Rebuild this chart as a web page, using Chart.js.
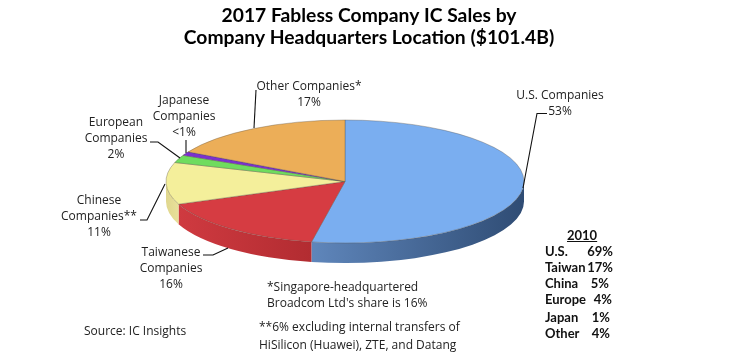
<!DOCTYPE html>
<html>
<head>
<meta charset="utf-8">
<style>
  html, body { margin: 0; padding: 0; background: #fff; }
  #wrap { position: relative; width: 738px; height: 354px; overflow: hidden; }
  #wrap canvas { position: absolute; left: 0; top: 0; }
  .lbl { position: absolute; font-family: "Open Sans", sans-serif; font-size: 12px; line-height: 16px; color: #222; white-space: pre; }
  .lbl.c { text-align: center; transform: translateX(-50%); }
  .t { position: absolute; font-family: Lato, sans-serif; font-weight: bold; font-size: 13px; line-height: 16px; color: #111; white-space: pre; }
</style>
</head>
<body>
<div id="wrap"><canvas id="pie" width="738" height="354"></canvas></div>
<script src="https://cdn.jsdelivr.net/npm/chart.js@4/dist/chart.umd.min.js"></script>
<script>
// Valeurs
const categories = ['U.S. Companies', 'Taiwanese Companies', 'Chinese Companies**', 'European Companies', 'Japanese Companies', 'Other Companies*'];
const shares = [53, 16, 11, 2, 1, 17];
const topColors = ['#7aaef0', '#d63c42', '#f4ef9b', '#6fdc5e', '#7b30cf', '#ecae58'];
const wallLeft = ['#5f86bb', '#cf3a40', '#e0d78e', '#4fa845', '#5a2399', '#b9823c'];
const wallRight = ['#2f4c74', '#b22c31', '#e8e09a', '#4fa845', '#5a2399', '#b9823c'];

const titleLines = ['2017 Fabless Company IC Sales by', 'Company Headquarters Location ($101.4B)'];

// Tableau 2010
const rows2010 = ['U.S.', 'Taiwan', 'China', 'Europe', 'Japan', 'Other'];
const values2010 = ['69%', '17%', '5%', '4%', '1%', '4%'];

// Ellipse du dessus et hauteur de la tranche
const ell = { x: 345, y: 181.5, rx: 179, ry: 61.5, depth: 20 };

// Traits de rappel
const leaders = [
  [[523, 188], [537, 113.5], [547, 113.5]],
  [[254, 128], [256, 90]],
  [[186, 153], [186, 140]],
  [[180, 158], [158, 142], [150, 142]],
  [[165, 184], [147, 220], [140, 220]],
  [[228, 248], [213, 255], [203, 255]]
];

// Textes autour du graphique [texte, x, y, centré ou non]
const notes = [
  ['U.S. Companies\n53%', 560, 87, true],
  ['Other Companies*\n17%', 309, 78, true],
  ['Japanese\nCompanies\n<1%', 184, 92, true],
  ['European\nCompanies\n2%', 116, 114, true],
  ['Chinese\nCompanies**\n11%', 99, 192, true],
  ['Taiwanese\nCompanies\n16%', 171, 244, true],
  ["*Singapore-headquartered\nBroadcom Ltd's share is 16%", 267, 279, false],
  ['**6% excluding internal transfers of', 259, 319, false],
  ['HiSilicon (Huawei), ZTE, and Datang', 259, 337, false],
  ['Source: IC Insights', 84, 323, false]
];

// Position du tableau 2010
const rowY = [243, 259, 275, 291, 309, 325];
const valueRight = [613, 613, 609, 612, 610, 610];

const wrap = document.getElementById('wrap');

function addText(cls, txt, x, y) {
  const d = document.createElement('div');
  d.className = cls;
  d.textContent = txt;
  d.style.left = x + 'px';
  d.style.top = y + 'px';
  wrap.appendChild(d);
  return d;
}

notes.forEach(n => addText(n[3] ? 'lbl c' : 'lbl', n[0], n[1], n[2]));

const head = addText('t', '2010', 567, 227);
head.style.textDecoration = 'underline';
rows2010.forEach((r, i) => {
  addText('t', r, 545, rowY[i]);
  const v = addText('t', values2010[i], 0, rowY[i]);
  v.style.left = 'auto';
  v.style.right = (738 - valueRight[i]) + 'px';
});

// Met la tarte à plat et dessine le côté
const tiltPlugin = {
  id: 'tilt',
  beforeDatasetsDraw(chart) {
    const arcs = chart.getDatasetMeta(0).data;
    const ctx = chart.ctx;
    const cx = arcs[0].x, cy = arcs[0].y, r = arcs[0].outerRadius;

    // côté visible : seulement la moitié avant
    arcs.forEach((arc, i) => {
      const a0 = Math.max(arc.startAngle, 0);
      const a1 = Math.min(arc.endAngle, Math.PI);
      if (a1 <= a0) return;
      const xa = ell.x + ell.rx * Math.cos(a0), xb = ell.x + ell.rx * Math.cos(a1);
      const grad = ctx.createLinearGradient(Math.min(xa, xb), 0, Math.max(xa, xb), 0);
      grad.addColorStop(0, wallLeft[i]);
      grad.addColorStop(1, wallRight[i]);
      ctx.save();
      ctx.fillStyle = grad;
      ctx.beginPath();
      ctx.ellipse(ell.x, ell.y, ell.rx, ell.ry, 0, a0, a1);
      ctx.ellipse(ell.x, ell.y + ell.depth, ell.rx, ell.ry, 0, a1, a0, true);
      ctx.closePath();
      ctx.fill();
      ctx.restore();
    });

    ctx.save();
    ctx.translate(ell.x, ell.y);
    ctx.scale(ell.rx / r, ell.ry / r);
    ctx.translate(-cx, -cy);
  },
  afterDatasetsDraw(chart) {
    chart.ctx.restore();
  },
  afterDraw(chart) {
    const ctx = chart.ctx;
    ctx.save();
    ctx.strokeStyle = '#111';
    ctx.lineWidth = 1.1;
    leaders.forEach(pts => {
      ctx.beginPath();
      pts.forEach((p, i) => i ? ctx.lineTo(p[0], p[1]) : ctx.moveTo(p[0], p[1]));
      ctx.stroke();
    });
    ctx.restore();
  }
};

new Chart(document.getElementById('pie').getContext('2d'), {
  type: 'pie',
  data: {
    labels: categories,
    datasets: [{
      data: shares,
      backgroundColor: topColors,
      borderColor: 'rgba(90, 80, 70, 0.55)',
      borderWidth: 0.8
    }]
  },
  options: {
    responsive: false,
    animation: false,
    layout: { padding: 0 },
    plugins: {
      legend: { display: false },
      tooltip: { enabled: false },
      title: {
        display: true,
        text: titleLines,
        color: '#000',
        font: { family: 'Lato', size: 19.3, weight: 'bold', lineHeight: 1.14 },
        padding: { top: 5, bottom: 4 }
      }
    }
  },
  plugins: [tiltPlugin]
});
</script>
</body>
</html>
